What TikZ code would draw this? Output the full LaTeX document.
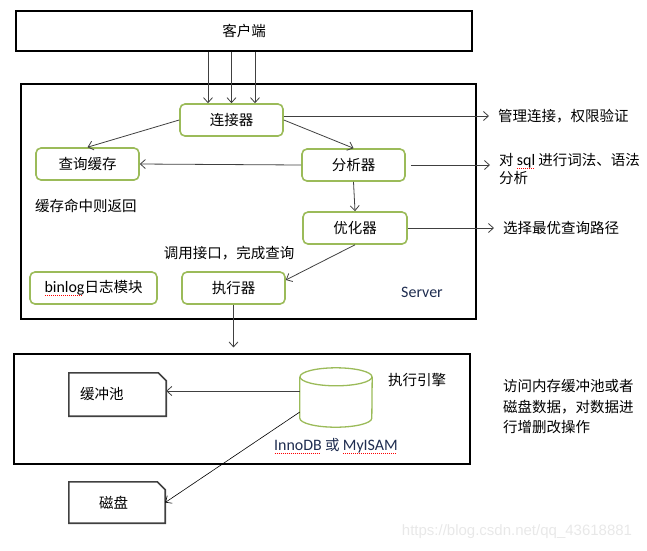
\documentclass[tikz,border=0pt]{standalone}
\usepackage{fontspec}
\setmainfont{Noto Sans CJK SC}
\newfontfamily\latinfont[Scale=1.1]{Carlito}
\newfontfamily\wmfont{Liberation Sans}
\usetikzlibrary{shapes.geometric, arrows.meta, positioning}
\definecolor{myGreen}{RGB}{155, 187, 89}
\definecolor{myGray}{RGB}{64, 64, 64}
\definecolor{myNavy}{RGB}{31, 45, 80}
% red dotted spell-check mark under a word
\newsavebox\spellbox
\newcommand\spellmark[1]{\sbox\spellbox{#1}\rlap{\raisebox{-3.5pt}{\color{red}\leaders\hbox to 2pt{\hss\rule{1pt}{0.6pt}\hss}\hskip\wd\spellbox}}\usebox\spellbox}

\begin{document}
\begin{tikzpicture}[
    x=1pt, y=-1pt,
    font=\fontsize{14.5pt}{18pt}\selectfont,
    >={Straight Barb[length=5pt, width=9pt]},
    % Styles
    frame/.style={
        draw=black, line width=1.1pt, inner sep=0pt
    },
    module/.style={
        draw=myGreen, line width=1.6pt, rounded corners=5pt, inner sep=0pt,
        minimum height=32pt, minimum width=103pt
    },
    store_box/.style={
        minimum width=97pt, minimum height=43pt, inner sep=0pt, align=left
    },
    note/.style={
        anchor=west, align=left, inner xsep=9pt, inner ysep=0pt
    },
    flow/.style={
        ->, draw=myGray, line width=0.8pt
    }
]
    \useasboundingbox (0,0) rectangle (647,550);

    % --- 1. Client ---
    \node[frame, minimum width=456pt, minimum height=40pt] (client) at (244,31) {客户端};

    % --- 2. Server layer ---
    \node[frame, minimum width=455pt, minimum height=235pt] (server) at (248.5,201.5) {};
    \node[module] (conn) at (231.5,120) {连接器};
    \node[module] (cache) at (87.5,164) {查询缓存};
    \node[module] (parser) at (353.5,165) {分析器};
    \node[module, minimum width=104pt] (optim) at (355,228) {优化器};
    \node[module, minimum width=127pt] (binlog) at (93.5,288) {\spellmark{\latinfont binlog}日志模块};
    \node[module] (exec) at (233.5,288) {执行器};

    \node[anchor=west, inner sep=0pt] (hit) at (35,206) {缓存命中则返回};
    \node[inner sep=0pt] (call) at (229,253) {调用接口，完成查询};
    \node[text=myNavy, inner sep=0pt] (srvname) at (422,292) {\latinfont Server};

    % Notes on the right
    \node[note] (note1) at (489,116) {管理连接，权限验证};
    \node[note] (note2) at (490,169) {对 \spellmark{\latinfont sql} 进行词法、语法\\分析};
    \node[note] (note3) at (494,228) {选择最优查询路径};

    % --- 3. Storage engine layer ---
    \node[frame, minimum width=456pt, minimum height=110pt] (engine) at (242,409) {};
    \node[store_box, text width=75pt] (pool) at (117.5,394.5) {缓冲池};
    \node[store_box, text width=36pt, minimum width=96pt, minimum height=41pt] (disk) at (117,502.5) {磁盘};
    % folded corner boxes
    \foreach \n in {pool, disk}
        \draw[draw=myGray, line width=1.6pt] (\n.south west) -- (\n.north west)
            -- ([xshift=-8pt]\n.north east) -- ([yshift=-8pt]\n.north east)
            -- (\n.south east) -- cycle;
    % database cylinder
    \node[minimum width=72pt, minimum height=59pt, inner sep=0pt] (db) at (336,397.5) {};
    \draw[draw=myGreen, line width=1.3pt] ([yshift=-9pt]db.north) ellipse (36pt and 9pt);
    \draw[draw=myGreen, line width=1.3pt] ([yshift=-9pt]db.north west) -- ([yshift=9pt]db.south west)
        arc (180:360:36pt and 9pt) -- ([yshift=-9pt]db.north east);
    \node (engname) at (417,380) {执行引擎};
    \node[text=myNavy, inner sep=0pt] (dbname) at (336,446) {\spellmark{\latinfont InnoDB} 或 \spellmark{\latinfont MyISAM}};
    \node[note, inner xsep=0pt] (note4) at (503,407) {访问内存缓冲池或者\\[2.5pt]磁盘数据，对数据进\\[2.5pt]行增删改操作};

    \node[text=black!9, font=\wmfont\fontsize{15pt}{15pt}\selectfont] (wm) at (517,532) {https://blog.csdn.net/qq\_43618881};

    % --- Connections ---
    \foreach \dx in {-23.5, 0, 23.5}
        \draw[flow] ([xshift=\dx pt]conn.north |- client.south) -- ([xshift=\dx pt]conn.north);
    \draw[flow] (conn.west) -- (cache.north);
    \draw[flow] (conn.east) -- (parser.north);
    \draw[flow] (parser.west) -- (cache.east);
    \draw[flow] (parser.south) -- (optim.north);
    \draw[flow] (optim.south) -- ([yshift=8pt]exec.east);
    \draw[flow, shorten >=6pt] (exec.south) -- (exec.south |- engine.north);

    \draw[flow] (conn.east |- note1.west) -- (note1.west);
    \draw[flow, shorten <=5pt] (parser.east) -- (parser.east -| note2.west);
    \draw[flow] (optim.east) -- (optim.east -| note3.west);

    \draw[flow] ([yshift=6.5pt]db.west) -- ([yshift=6.5pt]db.west -| pool.east);
    \draw[flow, draw=black, line width=0.6pt] ([yshift=-14.5pt]db.west) -- (disk.east);

\end{tikzpicture}
\end{document}
